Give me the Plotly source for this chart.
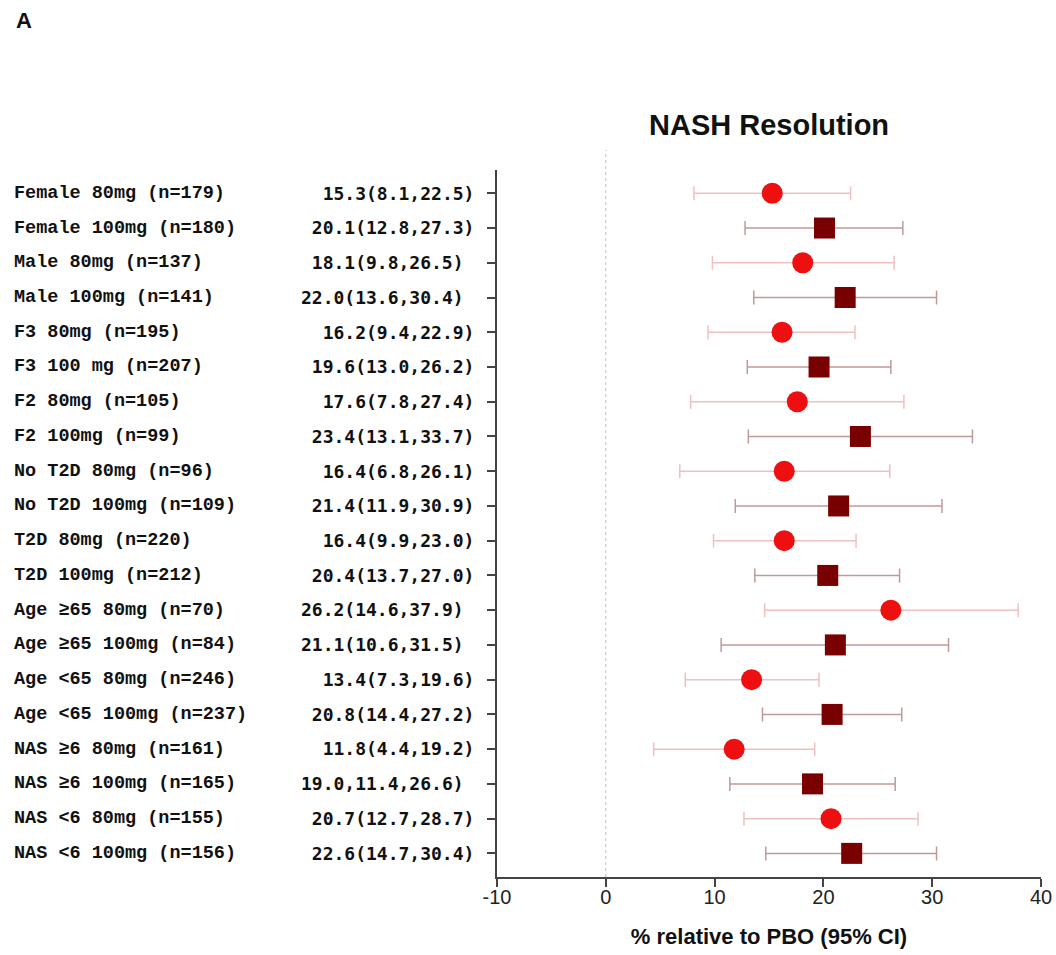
import plotly.graph_objects as go

labels = [
    "Female 80mg (n=179)", "Female 100mg (n=180)", "Male 80mg (n=137)", "Male 100mg (n=141)",
    "F3 80mg (n=195)", "F3 100 mg (n=207)", "F2 80mg (n=105)", "F2 100mg (n=99)",
    "No T2D 80mg (n=96)", "No T2D 100mg (n=109)", "T2D 80mg (n=220)", "T2D 100mg (n=212)",
    "Age \u226565 80mg (n=70)", "Age \u226565 100mg (n=84)", "Age <65 80mg (n=246)",
    "Age <65 100mg (n=237)", "NAS \u22656 80mg (n=161)", "NAS \u22656 100mg (n=165)",
    "NAS <6 80mg (n=155)", "NAS <6 100mg (n=156)",
]
ci_text = [
    "15.3(8.1,22.5)", "20.1(12.8,27.3)", "18.1(9.8,26.5)\u00a0", "22.0(13.6,30.4)\u00a0",
    "16.2(9.4,22.9)", "19.6(13.0,26.2)", "17.6(7.8,27.4)", "23.4(13.1,33.7)",
    "16.4(6.8,26.1)", "21.4(11.9,30.9)", "16.4(9.9,23.0)", "20.4(13.7,27.0)",
    "26.2(14.6,37.9)\u00a0", "21.1(10.6,31.5)\u00a0", "13.4(7.3,19.6)", "20.8(14.4,27.2)",
    "11.8(4.4,19.2)", "19.0,11.4,26.6)\u00a0", "20.7(12.7,28.7)", "22.6(14.7,30.4)",
]
est = [15.3, 20.1, 18.1, 22.0, 16.2, 19.6, 17.6, 23.4, 16.4, 21.4, 16.4, 20.4,
       26.2, 21.1, 13.4, 20.8, 11.8, 19.0, 20.7, 22.6]
lo = [8.1, 12.8, 9.8, 13.6, 9.4, 13.0, 7.8, 13.1, 6.8, 11.9, 9.9, 13.7,
      14.6, 10.6, 7.3, 14.4, 4.4, 11.4, 12.7, 14.7]
hi = [22.5, 27.3, 26.5, 30.4, 22.9, 26.2, 27.4, 33.7, 26.1, 30.9, 23.0, 27.0,
      37.9, 31.5, 19.6, 27.2, 19.2, 26.6, 28.7, 30.4]
dose = ["80mg", "100mg"] * 10
x_ticks = [-10, 0, 10, 20, 30, 40]
x_ticktext = ["-10", "0", "10", "20", "30", "40"]

rows = list(range(len(labels)))

fig = go.Figure()
styles = {
    "80mg": dict(symbol="circle", color="#ee1010", err="#f0c0c0"),
    "100mg": dict(symbol="square", color="#780000", err="#c09a9a"),
}
for d, st in styles.items():
    idx = [i for i in rows if dose[i] == d]
    fig.add_trace(go.Scatter(
        x=[est[i] for i in idx],
        y=[rows[i] for i in idx],
        mode="markers",
        marker=dict(symbol=st["symbol"], size=21, color=st["color"], line=dict(width=0)),
        error_x=dict(type="data", symmetric=False,
                     array=[hi[i] - est[i] for i in idx],
                     arrayminus=[est[i] - lo[i] for i in idx],
                     color=st["err"], thickness=1.5, width=7),
        showlegend=False,
    ))

W, H = 1056, 955
ml, mt, mb = 497, 170, 78
mr = W - 1041
pw = W - ml - mr
ph = H - mt - mb


def px_x(page_x):
    return (page_x - ml) / pw


def px_y(page_y):
    return 1.0 - (page_y - mt) / ph


fig.add_shape(type="line", xref="x", yref="paper", x0=0, x1=0, y0=0, y1=px_y(150),
              line=dict(color="#bbbbbb", width=1, dash="dot"), layer="below")

for i, lab in enumerate(labels):
    fig.add_annotation(x=px_x(12), xref="paper", y=rows[i], yref="y",
                       text=lab, showarrow=False, xanchor="left", yanchor="middle",
                       font=dict(family="Liberation Mono", size=18.5, color="#111111", weight="bold"))

fig.add_annotation(x=0.5, xref="paper", y=px_y(125), yref="paper",
                   text="<b>NASH Resolution</b>", showarrow=False, yanchor="middle",
                   font=dict(family="Liberation Sans", size=29, color="#111111"))
fig.add_annotation(x=px_x(14), xref="paper", y=px_y(21), yref="paper",
                   text="<b>A</b>", showarrow=False, xanchor="left", yanchor="middle",
                   font=dict(family="Liberation Sans", size=22, color="#111111"))

fig.update_layout(
    width=W, height=H,
    margin=dict(l=ml, r=mr, t=mt, b=mb, autoexpand=False),
    plot_bgcolor="white", paper_bgcolor="white",
    xaxis=dict(range=[-10, 40], tickvals=x_ticks, ticktext=x_ticktext, automargin=False,
               showgrid=False, zeroline=False, showline=True, linecolor="#444444", linewidth=2,
               ticks="outside", ticklen=8, tickwidth=2, tickcolor="#444444",
               ticklabelstandoff=-7, ticklabeloverflow="allow",
               tickfont=dict(family="Liberation Sans", size=20, color="#222222"),
               title=dict(text="<b>% relative to PBO (95% CI)</b>", standoff=22,
                          font=dict(family="Liberation Sans", size=22, color="#111111"))),
    yaxis=dict(range=[19.68, -0.67], tickvals=rows, ticktext=ci_text, automargin=False,
               showgrid=False, zeroline=False, showline=True, linecolor="#444444", linewidth=2,
               ticks="outside", ticklen=8, tickwidth=1.5, tickcolor="#444444",
               ticklabelstandoff=9,
               tickfont=dict(family="DejaVu Sans Mono", size=18, color="#111111", weight="bold")),
)

fig.write_html(
    "out.html",
    config={"displayModeBar": False},
    post_script="document.body.style.margin='0';document.body.style.overflow='hidden';",
)
